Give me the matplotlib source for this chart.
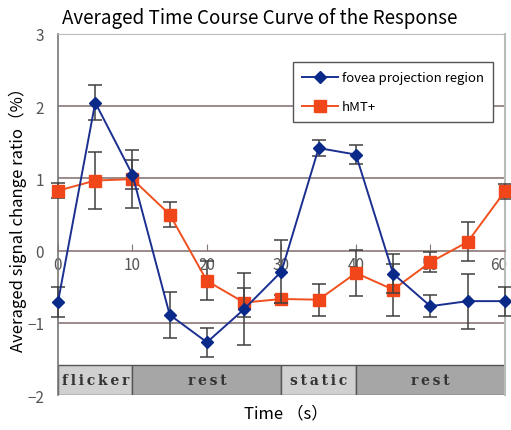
import numpy as np
import matplotlib
matplotlib.use("Agg")
from matplotlib import pyplot as plt
from matplotlib.patches import Rectangle
from matplotlib.lines import Line2D
from matplotlib.transforms import offset_copy

plt.rcParams['font.family'] = ['Noto Sans CJK JP', 'DejaVu Sans']

# time points (s)
time = [0, 5, 10, 15, 20, 25, 30, 35, 40, 45, 50, 55, 60]

# fovea projection region
fovea = [-0.71, 2.05, 1.05, -0.89, -1.27, -0.81, -0.29, 1.42, 1.33, -0.32, -0.77, -0.70, -0.70]
fovea_err = [0.21, 0.24, 0.20, 0.32, 0.20, 0.50, 0.44, 0.11, 0.13, 0.27, 0.15, 0.38, 0.20]

# hMT+
hmt = [0.83, 0.97, 0.99, 0.50, -0.42, -0.72, -0.67, -0.68, -0.31, -0.54, -0.16, 0.12, 0.82]
hmt_err = [0.10, 0.39, 0.40, 0.18, 0.27, 0.20, 0.05, 0.22, 0.32, 0.36, 0.14, 0.27, 0.10]

# stimulus blocks
blocks = [(0, 10, 'flicker'), (10, 30, 'rest'), (30, 40, 'static'), (40, 60, 'rest')]
block_colors = {'flicker': '#d0d0d0', 'static': '#d0d0d0', 'rest': '#a6a6a6'}

blue = '#1a2f8f'
orange = '#f0501e'

fig = plt.figure(figsize=(5.11, 4.31), dpi=100)
ax = fig.add_axes([0.1135, 0.0812, 0.8745, 0.8376])

ax.set_xlim(0, 60)
ax.set_ylim(-2, 3)

# horizontal grid lines
for yv in [2, 1, -1]:
    ax.axhline(yv, color='#8a7878', lw=1.2, zorder=1)

# block bar at the bottom
for x0, x1, name in blocks:
    ax.add_patch(Rectangle((x0, -2), x1 - x0, 0.42, facecolor=block_colors[name],
                           edgecolor='#555555', lw=1.0, zorder=2))
    ax.text((x0 + x1) / 2, -1.79, '\u2009'.join(name), ha='center', va='center',
            family='DejaVu Serif', fontweight='bold', fontsize=10, color='#333333', zorder=3)

ecol = '#404040'
ax.errorbar(time, fovea, yerr=fovea_err, color=blue, lw=1.4, marker='D', ms=6,
            mfc='#0a2a8a', mec='#0a2a8a', ecolor=ecol, elinewidth=1.1, capsize=5,
            capthick=1.1, zorder=5, clip_on=False)
ax.errorbar(time, hmt, yerr=hmt_err, color=orange, lw=1.4, marker='s', ms=8,
            mfc='#f0461a', mec='#f0461a', ecolor=ecol, elinewidth=1.1, capsize=5,
            capthick=1.1, zorder=4, clip_on=False)

# axes styling
ax.spines['bottom'].set_position(('data', 0))
ax.spines['bottom'].set_color('#8a7878')
ax.spines['bottom'].set_linewidth(1.2)
ax.spines['left'].set_color('#777777')
ax.spines['left'].set_linewidth(1.2)
ax.spines['top'].set_color('#bbbbbb')
ax.spines['right'].set_color('#bbbbbb')
ax.spines['right'].set_linewidth(1.5)

ax.set_xticks(range(0, 61, 10))
ax.set_yticks(range(-2, 4))
ax.set_yticklabels(['\u22122', '\u22121', '0', '1', '2', '3'])
ax.tick_params(axis='x', direction='in', length=5, color='#8a7878', labelsize=11,
               labelcolor='#555555', pad=4)
ax.tick_params(axis='y', direction='in', length=0, labelsize=11,
               labelcolor='#555555', pad=10)

# keep the last x label inside the figure
fig.canvas.draw()
last = ax.get_xticklabels()[-1]
last.set_transform(offset_copy(last.get_transform(), fig=fig, x=-6, y=0, units='dots'))

ax.set_ylabel('Averaged signal change ratio\uff08%\uff09', fontsize=12, labelpad=0)
fig.text(0.56, 0.04, 'Time \uff08s\uff09', ha='center', va='center', fontsize=12)
fig.text(0.122, 0.958, 'Averaged Time Course Curve of the Response', ha='left',
         va='center', fontsize=13.5)

handles = [Line2D([], [], color=blue, lw=1.4, marker='D', ms=6, mfc='#0a2a8a', mec='#0a2a8a'),
           Line2D([], [], color=orange, lw=1.4, marker='s', ms=8, mfc='#f0461a', mec='#f0461a')]
leg = ax.legend(handles, ['fovea projection region', 'hMT+'], loc='upper left',
                bbox_to_anchor=(0.526, 0.922), fancybox=False,
                edgecolor='#555555', framealpha=1, fontsize=9.5, handlelength=2.7,
                labelspacing=1.2, borderpad=0.7, handletextpad=0.3, borderaxespad=0)
leg.get_frame().set_linewidth(1.0)
leg.set_zorder(6)

fig.savefig('out.png', dpi=100)
